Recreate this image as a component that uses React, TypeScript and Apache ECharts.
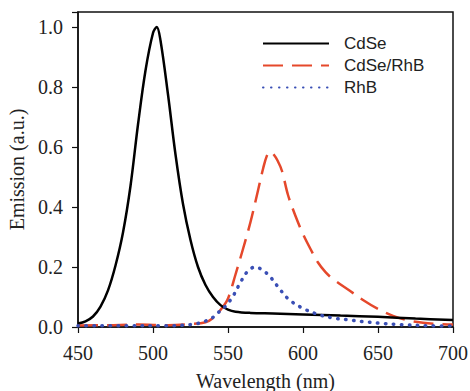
import React, { useEffect, useRef } from "react";
import * as echarts from "echarts";

const xTicks = [450, 500, 550, 600, 650, 700];
const yTicks = [0, 0.2, 0.4, 0.6, 0.8, 1.0];

const cdse: [number, number][] = [
  [450, 0.012], [455, 0.019], [460, 0.035], [465, 0.068], [470, 0.122],
  [475, 0.205], [480, 0.315], [485, 0.47], [490, 0.675], [495, 0.855],
  [500, 0.98], [502.5, 1.0], [505, 0.955], [510, 0.775], [515, 0.575],
  [520, 0.41], [525, 0.29], [530, 0.2], [535, 0.14], [540, 0.1], [545, 0.073],
  [550, 0.058], [555, 0.051], [565, 0.047], [580, 0.045], [600, 0.042], [625, 0.038],
  [650, 0.034], [675, 0.028], [700, 0.023],
];

const cdseRhb: [number, number][] = [
  [450, 0.005], [470, 0.006], [490, 0.008], [510, 0.006], [525, 0.01], [535, 0.016],
  [540, 0.03], [546, 0.063], [550, 0.095], [555, 0.175], [560, 0.26], [565, 0.35],
  [570, 0.455], [573.5, 0.53], [576, 0.572], [578, 0.585], [580, 0.578], [583, 0.555],
  [586, 0.52], [590, 0.44], [595, 0.37], [600, 0.31], [605, 0.26], [610, 0.215],
  [615, 0.183], [620, 0.16], [630, 0.125], [640, 0.09], [650, 0.06], [660, 0.037],
  [670, 0.022], [680, 0.014], [690, 0.01], [700, 0.008],
];

const rhb: [number, number][] = [
  [450, 0.004], [480, 0.004], [510, 0.004], [520, 0.006], [528, 0.01], [534, 0.018],
  [540, 0.032], [543, 0.046], [548, 0.068], [553, 0.1], [558, 0.146], [563, 0.185],
  [568, 0.2], [573, 0.19], [578, 0.168], [585, 0.123], [591, 0.09], [600, 0.062],
  [610, 0.042], [620, 0.03], [630, 0.024], [640, 0.018], [650, 0.013], [665, 0.008],
  [685, 0.004], [700, 0.003],
];

const seriesNames = ["CdSe", "CdSe/RhB", "RhB"];

export default function App() {
  const ref = useRef<HTMLDivElement>(null);
  useEffect(() => {
    if (!ref.current) return;
    const chart = echarts.init(ref.current, null, { renderer: "svg" });
    const serif = "Liberation Serif";
    chart.setOption({
      animation: false,
      backgroundColor: "#fff",
      textStyle: { fontFamily: serif },
      grid: {
        left: 78, right: 17, top: 12, bottom: 64,
        containLabel: false,
        outerBoundsMode: "none",
        show: true, borderColor: "#111", borderWidth: 1.5,
      },
      legend: {
        data: seriesNames,
        orient: "vertical",
        left: 257,
        top: 30,
        itemWidth: 66,
        itemHeight: 14,
        itemGap: 5,
        itemStyle: { opacity: 0, borderWidth: 0 },
        textStyle: {
          fontFamily: "Liberation Sans",
          fontSize: 17,
          color: "#222",
          padding: [0, 0, 0, 10],
          lineHeight: 17,
        },
      },
      xAxis: {
        type: "value",
        min: 450, max: 700, interval: 50,
        name: "Wavelength (nm)",
        nameLocation: "middle",
        nameGap: 44,
        nameTextStyle: { fontFamily: serif, fontSize: 20, color: "#222" },
        axisLine: { show: true, onZero: false, lineStyle: { color: "#111", width: 1.5 } },
        axisTick: { show: true, inside: false, length: 6, lineStyle: { color: "#111", width: 1.2 } },
        axisLabel: {
          margin: 16, fontFamily: serif, fontSize: 20, color: "#222",
          formatter: (v: number) => (xTicks.includes(v) ? String(v) : ""),
        },
        splitLine: { show: false },
      },
      yAxis: {
        type: "value",
        min: 0, max: 1.05, interval: 0.2,
        name: "Emission (a.u.)",
        nameLocation: "middle",
        nameGap: 50,
        nameTextStyle: { fontFamily: serif, fontSize: 20, color: "#222" },
        axisLine: { show: true, lineStyle: { color: "#111", width: 1.5 } },
        axisTick: { show: true, inside: false, length: 6, lineStyle: { color: "#111", width: 1.2 } },
        axisLabel: {
          margin: 15, fontFamily: serif, fontSize: 20, color: "#222",
          formatter: (v: number) =>
            yTicks.some((t) => Math.abs(t - v) < 1e-6) ? v.toFixed(1) : "",
        },
        splitLine: { show: false },
      },
      series: [
        {
          name: seriesNames[0], type: "line", data: cdse, smooth: 0.35,
          showSymbol: false,
          lineStyle: { color: "#000", width: 2.5 },
          itemStyle: { color: "#000" },
          z: 3,
        },
        {
          name: seriesNames[1], type: "line", data: cdseRhb, smooth: 0.35,
          showSymbol: false,
          lineStyle: { color: "#e5482b", width: 2.5, type: [20, 9] },
          itemStyle: { color: "#e5482b" },
          z: 2,
        },
        {
          name: seriesNames[2], type: "line", data: rhb, smooth: 0.35,
          showSymbol: false,
          lineStyle: { color: "#3a4fb5", width: 3.5, type: [0.5, 7.5], cap: "round" },
          itemStyle: { color: "#3a4fb5" },
          z: 4,
        },
      ],
    });
    return () => chart.dispose();
  }, []);
  return <div ref={ref} style={{ width: 470, height: 391, position: "absolute", left: 0, top: 0 }} />;
}
